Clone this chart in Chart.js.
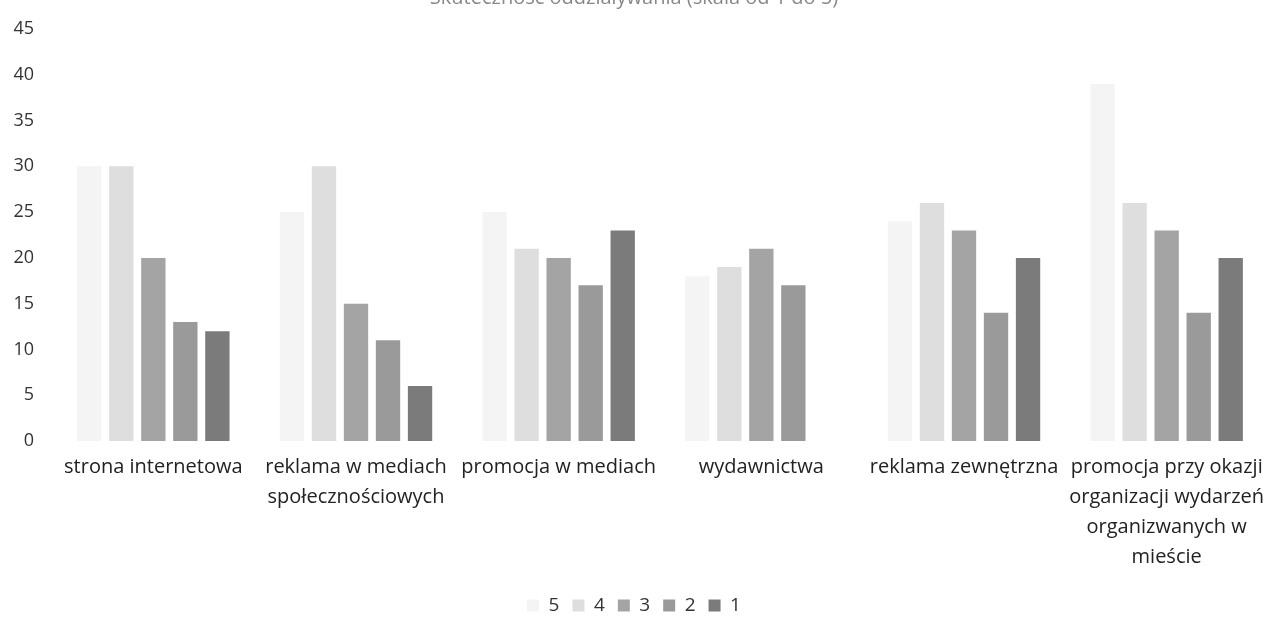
<!DOCTYPE html>
<html>
<head>
<meta charset="utf-8">
<script src="https://cdn.jsdelivr.net/npm/chart.js@4/dist/chart.umd.min.js"></script>
<style>
  html, body { margin: 0; padding: 0; background: #fff; overflow: hidden; }
  #wrap { position: absolute; left: 0; top: -14px; width: 1268px; height: 639px; }
</style>
</head>
<body>
<div id="wrap"><canvas id="chart"></canvas></div>
<script>
// categories (wrapped the way the original chart wraps them)
const categories = [
  'strona internetowa',
  ['reklama w mediach', 'społecznościowych'],
  'promocja w mediach',
  'wydawnictwa',
  'reklama zewnętrzna',
  ['promocja przy okazji', 'organizacji wydarzeń', 'organizwanych w', 'mieście']
];

// number of answers per rating
const rating5 = [30, 25, 25, 18, 24, 39];
const rating4 = [30, 30, 21, 19, 26, 26];
const rating3 = [20, 15, 20, 21, 23, 23];
const rating2 = [13, 11, 17, 17, 14, 14];
const rating1 = [12, 6, 23, 0, 20, 20];

const yTicks = { min: 0, max: 45, step: 5 };

const seriesNames = ['5', '4', '3', '2', '1'];
const seriesData = [rating5, rating4, rating3, rating2, rating1];
const seriesColors = ['#f4f4f4', '#dedede', '#a4a4a4', '#9a9a9a', '#7b7b7b'];

const font = "'Open Sans', 'DejaVu Sans', sans-serif";

const ctx = document.getElementById('chart').getContext('2d');
new Chart(ctx, {
  type: 'bar',
  data: {
    labels: categories,
    datasets: seriesNames.map((name, i) => ({
      label: name,
      data: seriesData[i],
      backgroundColor: seriesColors[i],
      borderWidth: 0,
      categoryPercentage: 0.79,
      barPercentage: 0.76
    }))
  },
  options: {
    responsive: true,
    maintainAspectRatio: false,
    animation: false,
    layout: { padding: { left: 0, right: 0, top: 0, bottom: 0 } },
    plugins: {
      title: {
        display: true,
        text: 'Skuteczność oddziaływania (skala od 1 do 5)',
        color: '#888',
        font: { family: font, size: 20, weight: 'normal' },
        padding: { top: 0, bottom: 19 }
      },
      legend: {
        position: 'bottom',
        labels: {
          color: '#333',
          font: { family: font, size: 19 },
          boxWidth: 12,
          boxHeight: 12,
          padding: 13
        }
      },
      tooltip: { enabled: false }
    },
    scales: {
      x: {
        grid: { display: false, drawTicks: false },
        border: { display: false },
        ticks: {
          color: '#222',
          font: { family: font, size: 20, lineHeight: 1.5 },
          padding: 11,
          maxRotation: 0,
          autoSkip: false
        },
        afterFit: s => {
          s.height = 142;
          // let the last label run to the edge, as in the original
          s.paddingLeft = 0;
          s.paddingRight = 0;
        }
      },
      y: {
        min: yTicks.min,
        max: yTicks.max,
        grid: { display: false, drawTicks: false },
        border: { display: false },
        ticks: {
          stepSize: yTicks.step,
          color: '#333',
          font: { family: font, size: 18 },
          padding: 18
        },
        afterFit: s => { s.width = 52; }
      }
    }
  }
});
</script>
</body>
</html>
